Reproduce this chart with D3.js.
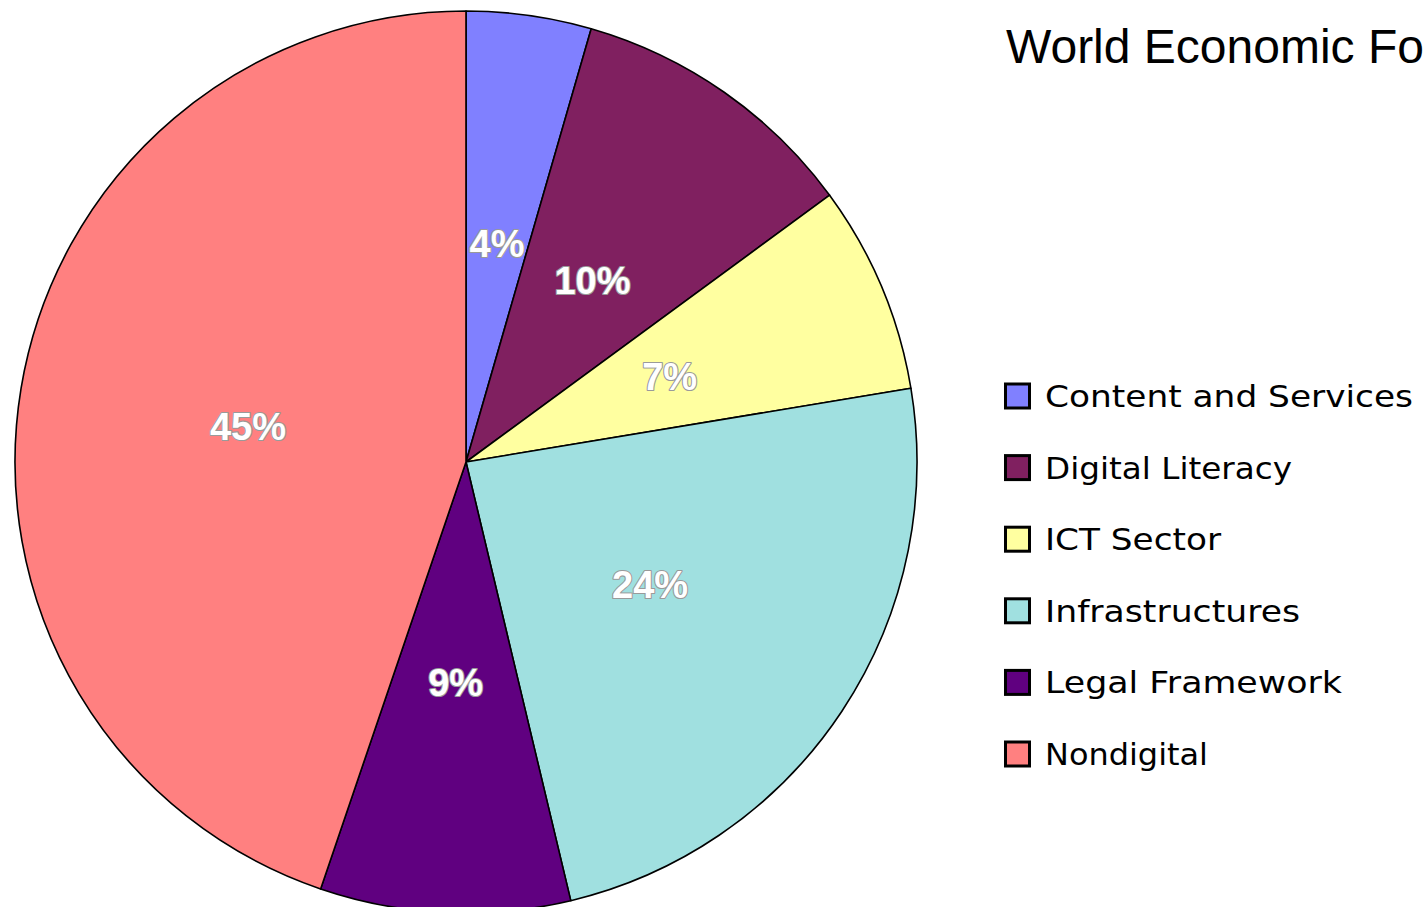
<!DOCTYPE html>
<html>
<head>
<meta charset="utf-8">
<script src="https://cdn.jsdelivr.net/npm/d3@7"></script>
<style>
  html, body { margin: 0; padding: 0; background: #fff; overflow: hidden; }
  svg { display: block; }
</style>
</head>
<body>
<svg id="chart" width="1423" height="907"></svg>
<script>
// Survey tallies per category
const categories = ["Content and Services", "Digital Literacy", "ICT Sector", "Infrastructures", "Legal Framework", "Nondigital"];
const counts = [3, 7, 5, 16, 6, 30];
const colors = ["#8080FF", "#802060", "#FFFFA0", "#A0E0E0", "#600080", "#FF8080"];
const title = "World Economic Forum";

const svg = d3.select("#chart");
const cx = 466, cy = 462, R = 451;
const total = d3.sum(counts);

const data = categories.map((c, i) => ({ name: c, value: counts[i], color: colors[i] }));

const pie = d3.pie().value(d => d.value).sort(null);
const arc = d3.arc().innerRadius(0).outerRadius(R);
const labelArc = d3.arc().innerRadius(R * 0.49).outerRadius(R * 0.49);

const g = svg.append("g").attr("transform", `translate(${cx},${cy})`);
const arcs = pie(data);

g.selectAll("path.slice")
  .data(arcs)
  .join("path")
  .attr("class", "slice")
  .attr("d", arc)
  .attr("fill", d => d.data.color)
  .attr("stroke", "#000")
  .attr("stroke-width", 1.6)
  .attr("stroke-linejoin", "round");

// Percentage labels: white with a grey halo
const labels = g.selectAll("g.lbl")
  .data(arcs)
  .join("g")
  .attr("class", "lbl")
  .attr("transform", d => `translate(${labelArc.centroid(d)})`);

const pctText = d => Math.round(d.data.value / total * 100) + "%";

labels.append("text")
  .attr("text-anchor", "middle")
  .attr("dy", "0.36em")
  .attr("font-family", "Liberation Sans, Arial, sans-serif")
  .attr("font-weight", "bold")
  .attr("font-size", 38)
  .attr("fill", "none")
  .attr("stroke", "#9a9a9a")
  .attr("stroke-width", 2.2)
  .attr("stroke-linejoin", "round")
  .text(pctText);

labels.append("text")
  .attr("text-anchor", "middle")
  .attr("dy", "0.36em")
  .attr("font-family", "Liberation Sans, Arial, sans-serif")
  .attr("font-weight", "bold")
  .attr("font-size", 38)
  .attr("fill", "#fff")
  .text(pctText);

// Title
svg.append("text")
  .attr("x", 1006)
  .attr("y", 63)
  .attr("font-family", "Liberation Sans, Arial, sans-serif")
  .attr("font-size", 48)
  .attr("fill", "#000")
  .text(title);

// Legend
const legendY = d3.scalePoint()
  .domain(categories)
  .range([396, 754]);

const legend = svg.append("g")
  .selectAll("g")
  .data(data)
  .join("g")
  .attr("transform", d => `translate(1004,${legendY(d.name)})`);

legend.append("rect")
  .attr("x", 1.5)
  .attr("y", -12)
  .attr("width", 24)
  .attr("height", 24)
  .attr("fill", d => d.color)
  .attr("stroke", "#000")
  .attr("stroke-width", 3);

const legendWidths = [368, 247, 176, 255, 297, 163];
legend.append("text")
  .attr("x", 41)
  .attr("y", 11)
  .attr("font-family", "DejaVu Sans, sans-serif")
  .attr("font-size", 31)
  .attr("fill", "#000")
  .attr("textLength", (d, i) => legendWidths[i])
  .attr("lengthAdjust", "spacingAndGlyphs")
  .text(d => d.name);
</script>
</body>
</html>
